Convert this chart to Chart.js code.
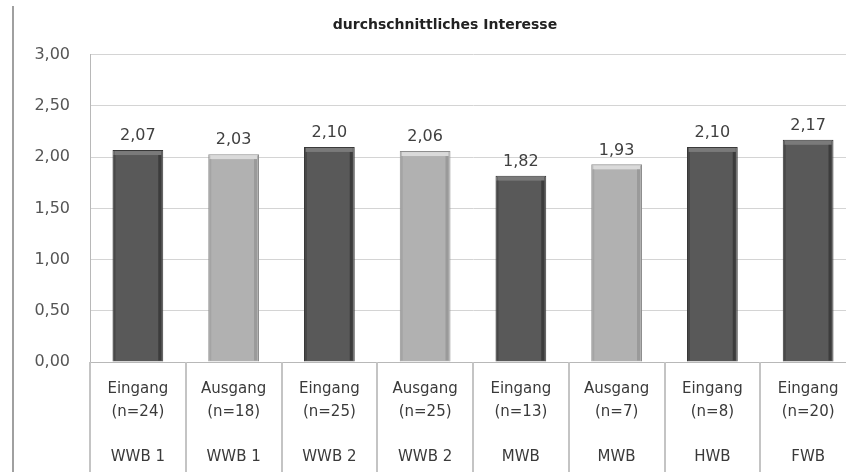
<!DOCTYPE html>
<html>
<head>
<meta charset="utf-8">
<script src="https://cdn.jsdelivr.net/npm/chart.js@4.4.1/dist/chart.umd.min.js"></script>
<style>
    html, body { margin: 0; padding: 0; background: #fff; overflow: hidden; width: 846px; height: 472px; }
    #wrap { position: absolute; left: -34px; top: 0; width: 924px; height: 472px; }
    #frame { position: absolute; left: 12px; top: 6px; width: 2px; height: 466px; background: #a0a0a0; }
</style>
</head>
<body>
<div id="wrap"><canvas id="chart" width="924" height="472"></canvas></div>
<div id="frame"></div>
<script>
// chart data
const groups = ['Eingang', 'Ausgang', 'Eingang', 'Ausgang', 'Eingang', 'Ausgang', 'Eingang', 'Eingang'];
const sizes = ['(n=24)', '(n=18)', '(n=25)', '(n=25)', '(n=13)', '(n=7)', '(n=8)', '(n=20)'];
const schools = ['WWB 1', 'WWB 1', 'WWB 2', 'WWB 2', 'MWB', 'MWB', 'HWB', 'FWB'];
const values = [2.07, 2.03, 2.10, 2.06, 1.82, 1.93, 2.10, 2.17];
const yTicks = [0, 0.5, 1, 1.5, 2, 2.5, 3];

const fmt = v => v.toFixed(2).replace('.', ',');
const isLight = i => groups[i] === 'Ausgang';

// bevel look + value labels on top of bars
const barDeco = {
    id: 'barDeco',
    afterDatasetsDraw(chart) {
        const ctx = chart.ctx;
        const meta = chart.getDatasetMeta(0);
        meta.data.forEach((bar, i) => {
            const { x, y, base, width } = bar.getProps(['x', 'y', 'base', 'width'], true);
            const left = x - width / 2;
            const light = isLight(i);
            ctx.save();
            // top highlight
            ctx.fillStyle = light ? '#dadada' : '#7a7a7a';
            ctx.fillRect(left + 2, y + 1, width - 4, 4);
            // right shadow stripe
            ctx.fillStyle = light ? '#9a9a9a' : '#3c3c3c';
            ctx.fillRect(left + width - 5, y + 5, 3, base - y - 6);
            // left stripe
            ctx.fillStyle = light ? '#a4a4a4' : '#484848';
            ctx.fillRect(left + 1, y + 5, 2, base - y - 6);
            // value label
            ctx.fillStyle = '#404040';
            ctx.font = '16px "DejaVu Sans"';
            ctx.textAlign = 'center';
            ctx.textBaseline = 'bottom';
            ctx.fillText(fmt(values[i]), x, y - 6);
            ctx.restore();
        });
    },
    afterDraw(chart) {
        // category dividers under the x axis
        const ctx = chart.ctx;
        const xs = chart.scales.x;
        const step = xs.getPixelForValue(1) - xs.getPixelForValue(0);
        ctx.save();
        ctx.strokeStyle = '#c4c4c4';
        ctx.lineWidth = 2;
        for (let i = 0; i <= values.length; i++) {
            const px = Math.round(xs.getPixelForValue(0) - step / 2 + i * step);
            ctx.beginPath();
            ctx.moveTo(px, chart.chartArea.bottom);
            ctx.lineTo(px, chart.height);
            ctx.stroke();
        }
        ctx.restore();
    }
};

new Chart(document.getElementById('chart'), {
    type: 'bar',
    data: {
        labels: groups.map((g, i) => [g, sizes[i], '', schools[i]]),
        datasets: [{
            data: values,
            backgroundColor: values.map((v, i) => isLight(i) ? '#b1b1b1' : '#595959'),
            borderColor: values.map((v, i) => isLight(i) ? '#8e8e8e' : '#383838'),
            borderWidth: 1,
            barPercentage: 0.53,
            categoryPercentage: 1
        }]
    },
    options: {
        responsive: false,
        animation: false,
        layout: { padding: { left: 68, right: 34, top: 0, bottom: 0 } },
        plugins: {
            legend: { display: false },
            tooltip: { enabled: false },
            title: {
                display: true,
                text: 'durchschnittliches Interesse',
                color: '#222',
                font: { family: 'DejaVu Sans', size: 14, weight: 'bold' },
                padding: { top: 17, bottom: 21 }
            }
        },
        scales: {
            x: {
                grid: { display: true, drawOnChartArea: false, drawTicks: false },
                border: { display: true, color: '#b8b8b8', width: 1 },
                ticks: {
                    color: '#3a3a3a',
                    font: { family: 'DejaVu Sans', size: 15, lineHeight: 1.5 },
                    padding: 16,
                    maxRotation: 0,
                    autoSkip: false
                },
                afterFit: s => { s.height = 110; }
            },
            y: {
                min: 0,
                max: 3,
                afterBuildTicks: s => { s.ticks = yTicks.map(v => ({ value: v })); },
                grid: { color: '#d4d4d4', drawTicks: false },
                border: { display: true, color: '#b8b8b8', width: 1 },
                ticks: {
                    color: '#555',
                    font: { family: 'DejaVu Sans', size: 16 },
                    padding: 20,
                    callback: v => fmt(v)
                },
                afterFit: s => { s.width = 56; }
            }
        }
    },
    plugins: [barDeco]
});
</script>
</body>
</html>
